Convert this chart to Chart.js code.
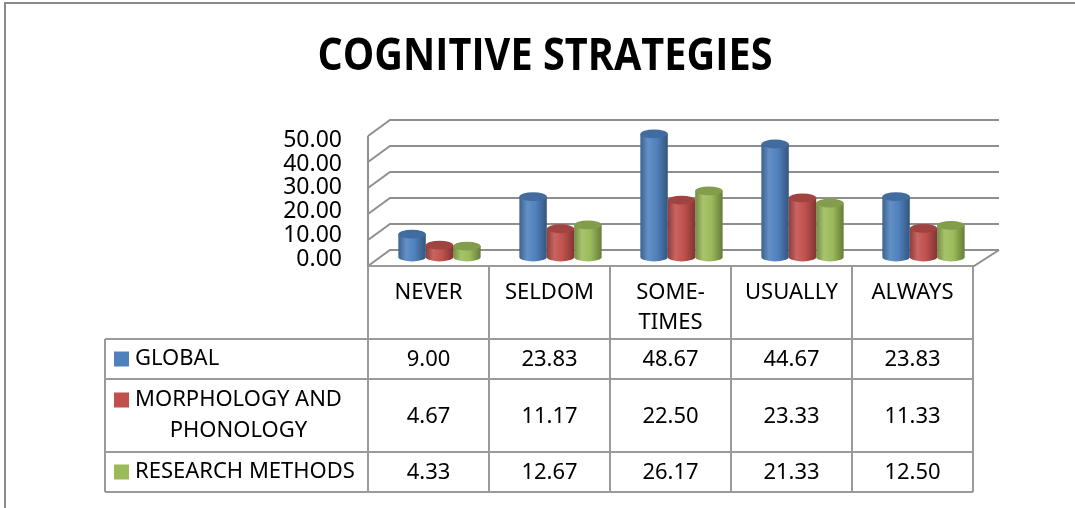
<!DOCTYPE html>
<html>
<head>
<meta charset="utf-8">
<title>Cognitive Strategies</title>
<script src="https://cdn.jsdelivr.net/npm/chart.js@4.4.1/dist/chart.umd.min.js"></script>
<style>
    html, body { margin: 0; padding: 0; background: #fff; }
    #wrap { width: 1075px; height: 508px; }
</style>
</head>
<body>
<div id="wrap"><canvas id="chart" width="1075" height="508"></canvas></div>
<script>
// ---- data ----
const categories = [['NEVER'], ['SELDOM'], ['SOME-', 'TIMES'], ['USUALLY'], ['ALWAYS']];
const seriesNames = [['GLOBAL'], ['MORPHOLOGY AND', 'PHONOLOGY'], ['RESEARCH METHODS']];
const globalValues = [9.00, 23.83, 48.67, 44.67, 23.83];
const morphologyValues = [4.67, 11.17, 22.50, 23.33, 11.33];
const researchValues = [4.33, 12.67, 26.17, 21.33, 12.50];
const yTicks = [0, 10, 20, 30, 40, 50];
const seriesColors = ['#4F81BD', '#C0504D', '#9BBB59'];

const FONT = "'Noto Sans', 'Open Sans', sans-serif";
const GRID = '#8f8f8f';
const LINES = '#9a9a9a';

// 3d look: depth of the walls, shift of the bars into the middle of the floor
const DEPTH_X = 22, DEPTH_Y = -16, BAR_SHIFT = 11;

function shade(hex, f) {
    const n = parseInt(hex.slice(1), 16);
    const ch = [n >> 16, (n >> 8) & 255, n & 255].map(c =>
        f >= 1 ? Math.round(c + (255 - c) * (f - 1)) : Math.round(c * f));
    return `rgb(${ch[0]},${ch[1]},${ch[2]})`;
}

function drawCylinder(ctx, cx, top, base, w, color) {
    const rx = w / 2, ry = Math.max(3, w * 0.16);
    const g = ctx.createLinearGradient(cx - rx, 0, cx + rx, 0);
    g.addColorStop(0, shade(color, 0.75));
    g.addColorStop(0.28, shade(color, 1.12));
    g.addColorStop(0.6, color);
    g.addColorStop(1, shade(color, 0.66));
    ctx.beginPath();
    ctx.moveTo(cx - rx, top);
    ctx.lineTo(cx - rx, base);
    ctx.ellipse(cx, base, rx, ry, 0, Math.PI, 0, true);
    ctx.lineTo(cx + rx, top);
    ctx.closePath();
    ctx.fillStyle = g;
    ctx.fill();
    ctx.beginPath();
    ctx.ellipse(cx, top, rx, ry, 0, 0, Math.PI * 2);
    ctx.fillStyle = shade(color, 0.84);
    ctx.fill();
}

/* -------------------- PLUGINS -------------------- */

const frame3d = {
    id: 'frame3d',
    beforeDraw(chart) {
        const { ctx, width, height } = chart;
        ctx.save();
        ctx.fillStyle = '#fff';
        ctx.fillRect(0, 0, width, height);
        // outer chart border (only top and left show)
        ctx.strokeStyle = '#8a8a8a';
        ctx.lineWidth = 2;
        ctx.beginPath();
        ctx.moveTo(5, height);
        ctx.lineTo(5, 3);
        ctx.lineTo(width, 3);
        ctx.stroke();
        // title, squeezed to the narrow width of the original face
        const title = 'COGNITIVE STRATEGIES';
        ctx.fillStyle = '#000';
        ctx.font = "bold 44px 'Open Sans', 'Noto Sans', sans-serif";
        ctx.textAlign = 'center';
        ctx.textBaseline = 'middle';
        const sx = 455 / ctx.measureText(title).width;
        ctx.translate(545, 57);
        ctx.scale(sx, 1);
        ctx.fillText(title, 0, 0);
        ctx.restore();
    },
    beforeDatasetsDraw(chart) {
        const { ctx, chartArea: a } = chart;
        const wall = chart.scales.yWall;
        const backRight = a.right + 26;
        ctx.save();
        ctx.strokeStyle = GRID;
        ctx.lineWidth = 2;
        yTicks.forEach(v => {
            const py = wall.getPixelForValue(v);
            ctx.beginPath();
            ctx.moveTo(a.left, py);
            ctx.lineTo(a.left + DEPTH_X, py + DEPTH_Y);
            ctx.lineTo(backRight, py + DEPTH_Y);
            ctx.stroke();
        });
        const y0 = wall.getPixelForValue(0);
        ctx.beginPath();
        ctx.moveTo(a.left, wall.getPixelForValue(50));
        ctx.lineTo(a.left, y0);
        ctx.lineTo(a.right + 1, y0);
        ctx.lineTo(backRight, y0 + DEPTH_Y);
        ctx.stroke();
        ctx.restore();
    },
    beforeDatasetDraw(chart, args) {
        const { ctx } = chart;
        const color = chart.data.datasets[args.index].backgroundColor;
        ctx.save();
        args.meta.data.forEach(bar => {
            const p = bar.getProps(['x', 'y', 'base', 'width'], true);
            drawCylinder(ctx, p.x + BAR_SHIFT, p.y, p.base, p.width, color);
        });
        ctx.restore();
        return false;
    }
};

const dataTable = {
    id: 'dataTable',
    afterDraw(chart) {
        const { ctx } = chart;
        const x = chart.scales.x;
        const rowHeights = [73, 40, 73, 40];
        const left = 105;
        const top = chart.scales.yWall.getPixelForValue(0);
        const half = (x.getPixelForValue(1) - x.getPixelForValue(0)) / 2;
        const edges = categories.map((c, i) => x.getPixelForValue(i) - half);
        edges.push(x.getPixelForValue(categories.length - 1) + half);
        const rowTops = [top];
        rowHeights.forEach(h => rowTops.push(rowTops[rowTops.length - 1] + h));
        const bottom = rowTops[rowTops.length - 1];
        const values = chart.data.datasets.map(d => d.data);

        ctx.save();
        ctx.strokeStyle = LINES;
        ctx.lineWidth = 2;
        ctx.beginPath();
        ctx.moveTo(edges[0], top);
        ctx.lineTo(edges[edges.length - 1], top);
        for (let r = 1; r < rowTops.length; r++) {
            ctx.moveTo(left, rowTops[r]);
            ctx.lineTo(edges[edges.length - 1], rowTops[r]);
        }
        ctx.moveTo(left, rowTops[1]);
        ctx.lineTo(left, bottom);
        edges.forEach(ex => {
            ctx.moveTo(ex, top);
            ctx.lineTo(ex, bottom);
        });
        ctx.stroke();

        ctx.fillStyle = '#000';
        ctx.font = '22px ' + FONT;
        ctx.textBaseline = 'middle';
        ctx.textAlign = 'center';
        // header
        categories.forEach((lines, i) => {
            const cx = x.getPixelForValue(i);
            lines.forEach((t, k) => ctx.fillText(t, cx, top + 27 + k * 30));
        });
        // series rows
        seriesNames.forEach((lines, s) => {
            const rTop = rowTops[s + 1], rH = rowHeights[s + 1];
            const mid = rTop + rH / 2;
            const firstY = mid - (lines.length - 1) * 15.5;
            const blockW = Math.max(...lines.map(t => ctx.measureText(t).width));
            const textLeft = 135;
            ctx.fillStyle = seriesColors[s];
            ctx.fillRect(114, firstY - 7.5, 15, 15);
            ctx.fillStyle = '#000';
            lines.forEach((t, k) => ctx.fillText(t, textLeft + blockW / 2, firstY + k * 31));
            values[s].forEach((v, i) => ctx.fillText(v.toFixed(2), x.getPixelForValue(i), mid + 1));
        });
        ctx.restore();
    }
};

/* -------------------- CHART -------------------- */

new Chart(document.getElementById('chart'), {
    type: 'bar',
    data: {
        labels: categories,
        datasets: [
            { label: seriesNames[0].join(' '), data: globalValues, backgroundColor: seriesColors[0], yAxisID: 'yBar' },
            { label: seriesNames[1].join(' '), data: morphologyValues, backgroundColor: seriesColors[1], yAxisID: 'yBar' },
            { label: seriesNames[2].join(' '), data: researchValues, backgroundColor: seriesColors[2], yAxisID: 'yBar' }
        ]
    },
    options: {
        responsive: false,
        animation: false,
        events: [],
        layout: { padding: { left: 0, top: 136, right: 102, bottom: 242 } },
        datasets: { bar: { barPercentage: 1, categoryPercentage: 0.68 } },
        plugins: { legend: { display: false }, title: { display: false }, tooltip: { enabled: false } },
        scales: {
            x: { type: 'category', display: false },
            y: {
                type: 'linear',
                position: 'left',
                min: -2.95,
                max: 51.9,
                grid: { display: false, drawTicks: false },
                border: { display: false },
                afterBuildTicks: scale => { scale.ticks = yTicks.map(v => ({ value: v })); },
                afterFit: scale => { scale.width = 368; scale.paddingTop = 0; scale.paddingBottom = 0; },
                ticks: {
                    autoSkip: false,
                    padding: 26,
                    color: '#000',
                    font: { family: FONT, size: 23 },
                    callback: v => v.toFixed(2)
                }
            },
            yWall: { type: 'linear', axis: 'y', display: false, min: 0, max: 50 },
            yBar: { type: 'linear', axis: 'y', display: false, min: -3.56, max: 47.83 }
        }
    },
    plugins: [frame3d, dataTable]
});
</script>
</body>
</html>
